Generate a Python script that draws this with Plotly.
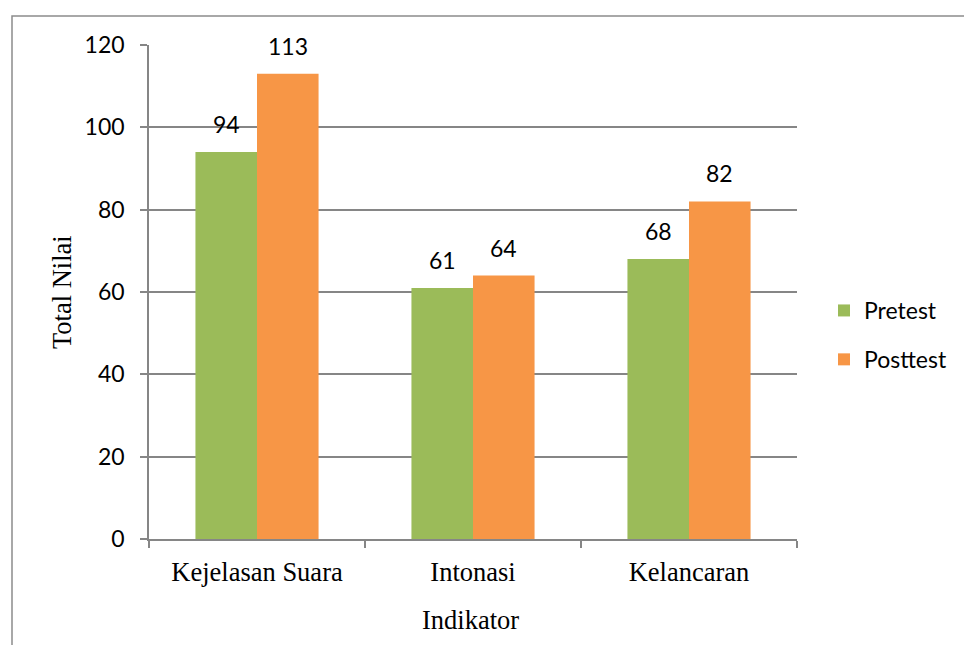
import plotly.graph_objects as go

categories = ["Kejelasan Suara", "Intonasi", "Kelancaran"]
pretest = [94, 61, 68]
posttest = [113, 64, 82]
series_names = ["Pretest", "Posttest"]
colors = ["#9BBB59", "#F79646"]

L, R, T, B = 149, 797, 45, 539
W, H = 964, 645
pw, ph = R - L, B - T

def px_x(x):
    return (x - L) / pw

def px_y(y):
    return (B - y) / ph

sans = "Lato"
serif = "Liberation Serif"

fig = go.Figure()
for name, vals, col in zip(series_names, [pretest, posttest], colors):
    fig.add_trace(go.Bar(x=categories, y=vals, name=name, marker_color=col,
                         marker_line_width=0, legendgroup=name))

# data labels
bar_px = pw / 3 * (1 - 0.43) / 2
for i, vals in enumerate([pretest, posttest]):
    shift = (-0.5 if i == 0 else 0.5) * bar_px
    for c, v in zip(categories, vals):
        fig.add_annotation(x=c, y=v, text=str(v), showarrow=False, xshift=shift,
                           yshift=12, yanchor="bottom",
                           font=dict(family=sans, size=23, color="black"))

# axis titles
fig.add_annotation(x=px_x(62), y=px_y(292), xref="paper", yref="paper", text="Total Nilai",
                   textangle=-90, showarrow=False, xanchor="center", yanchor="middle",
                   font=dict(family=serif, size=26.5, color="black"))
fig.add_annotation(x=px_x(470), y=px_y(620), xref="paper", yref="paper", text="Indikator",
                   showarrow=False, xanchor="center", yanchor="middle",
                   font=dict(family=serif, size=26.5, color="black"))

# outer border
fig.add_shape(type="rect", xref="paper", yref="paper",
              x0=px_x(12), x1=px_x(975), y0=px_y(16), y1=px_y(660),
              line=dict(color="#8c8c8c", width=1.5))

fig.update_layout(
    width=W, height=H,
    margin=dict(l=L, r=W - R, t=T, b=H - B, pad=0, autoexpand=False),
    paper_bgcolor="white", plot_bgcolor="white",
    barmode="group", bargap=0.43, bargroupgap=0,
    legend=dict(x=px_x(824), y=px_y(289), xanchor="left", yanchor="top",
                font=dict(family=sans, size=23, color="black"),
                tracegroupgap=16, itemwidth=30, bgcolor="rgba(0,0,0,0)"),
    xaxis=dict(showline=True, linecolor="#868686", linewidth=1.5,
               ticks="outside", tickson="boundaries", ticklen=7, tickcolor="#868686",
               tickwidth=1.5, tickfont=dict(family=serif, size=26.5, color="black"),
               ticklabelstandoff=8, showgrid=False),
    yaxis=dict(range=[0, 120], dtick=20, showline=True, linecolor="#868686", linewidth=1.5,
               ticks="outside", ticklen=7, tickcolor="#868686", tickwidth=1.5,
               showgrid=True, gridcolor="#868686", gridwidth=1.5, zeroline=False,
               ticklabelstandoff=11,
               tickfont=dict(family=sans, size=23, color="black")),
)

fig.write_html("out.html")
